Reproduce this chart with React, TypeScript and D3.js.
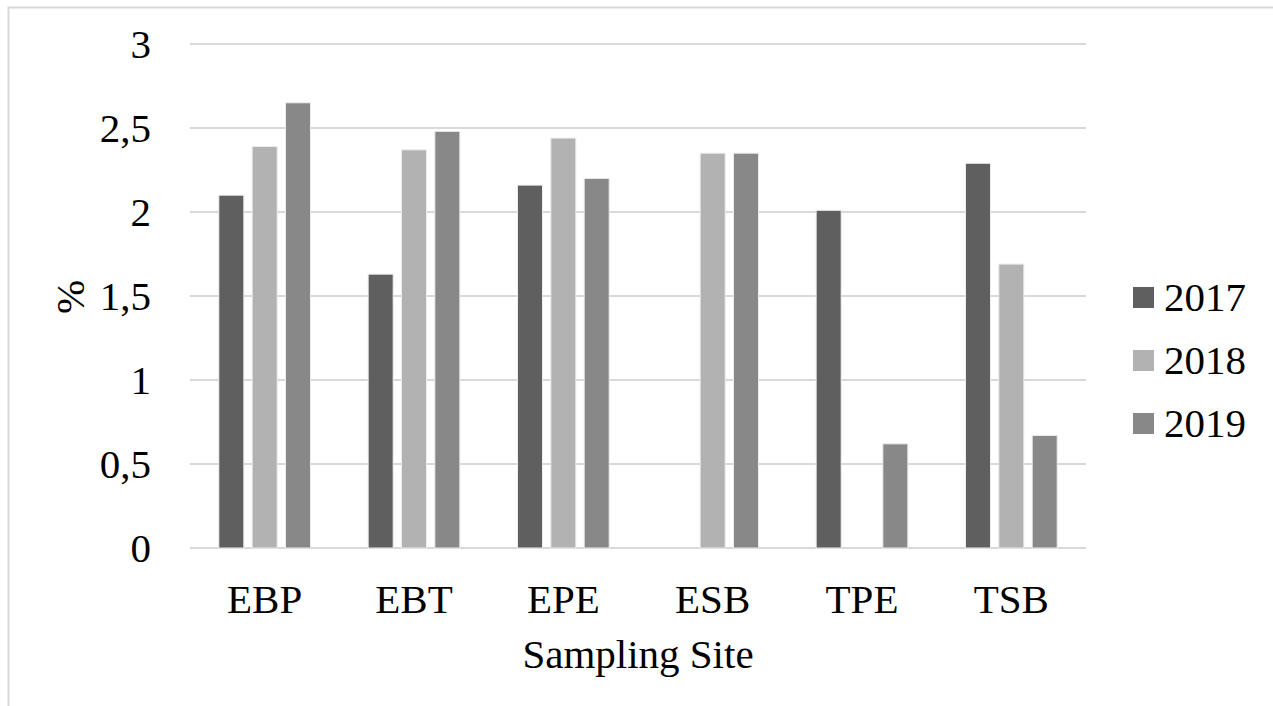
import React from "react";
import * as d3 from "d3";

// Sampling sites and yearly percentages
const sites = ["EBP", "EBT", "EPE", "ESB", "TPE", "TSB"];
const years = ["2017", "2018", "2019"];
const values2017 = [2.1, 1.63, 2.16, 0, 2.01, 2.29];
const values2018 = [2.39, 2.37, 2.44, 2.35, 0, 1.69];
const values2019 = [2.65, 2.48, 2.2, 2.35, 0.62, 0.67];
const yTicks = [0, 0.5, 1, 1.5, 2, 2.5, 3];
const colors = ["#5f5f5f", "#b2b2b2", "#888888"];

const seriesValues = [values2017, values2018, values2019];

const W = 1273;
const H = 706;
const textStyle: React.CSSProperties = {
  fontFamily: '"Liberation Serif", "Times New Roman", Times, "DejaVu Serif", serif',
  fontSize: "41px",
  fill: "#000",
};

export default function App() {
  const x0 = d3.scaleBand<string>().domain(sites).range([190, 1086]).padding(0);
  const x1 = d3
    .scaleBand<string>()
    .domain(years)
    .range([0, x0.bandwidth()])
    .paddingInner(0.25)
    .paddingOuter(0.864);
  const y = d3.scaleLinear().domain([0, 3]).range([548, 44]);
  const fmt = (v: number) => String(v).replace(".", ",");

  return (
    <svg
      width={W}
      height={H}
      style={{ position: "absolute", left: 0, top: 0, background: "#fff" }}
    >
      <rect x={0} y={0} width={W} height={H} fill="#fff" />
      {/* chart frame */}
      <rect x={8.5} y={7.5} width={W + 20} height={H + 20} fill="none" stroke="#d9d9d9" strokeWidth={2} />

      {/* gridlines */}
      {yTicks.map((t) => (
        <line
          key={t}
          x1={190}
          x2={1086}
          y1={y(t)}
          y2={y(t)}
          stroke="#d9d9d9"
          strokeWidth={2}
        />
      ))}

      {/* bars */}
      {sites.map((s, i) => (
        <g key={s} transform={`translate(${x0(s)},0)`}>
          {years.map((yr, k) => {
            const v = seriesValues[k][i];
            if (!v) return null;
            return (
              <rect
                key={yr}
                x={x1(yr)}
                y={y(v)}
                width={x1.bandwidth()}
                height={y(0) - y(v)}
                fill={colors[k]}
                stroke="#ececec"
                strokeWidth={1}
              />
            );
          })}
        </g>
      ))}

      {/* y tick labels */}
      {yTicks.map((t) => (
        <text key={t} x={151} y={y(t)} dy="0.35em" textAnchor="end" style={textStyle}>
          {fmt(t)}
        </text>
      ))}

      {/* x tick labels */}
      {sites.map((s) => (
        <text
          key={s}
          x={(x0(s) as number) + x0.bandwidth() / 2}
          y={613}
          textAnchor="middle"
          style={textStyle}
        >
          {s}
        </text>
      ))}

      {/* axis titles */}
      <text x={638} y={668} textAnchor="middle" style={textStyle}>
        Sampling Site
      </text>
      <text transform="translate(84,297) rotate(-90)" textAnchor="middle" style={textStyle}>
        %
      </text>

      {/* legend */}
      {years.map((yr, k) => (
        <g key={yr} transform={`translate(1133,${297 + k * 63})`}>
          <rect x={0} y={-10} width={21} height={21} fill={colors[k]} />
          <text x={31} y={0} dy="0.35em" style={textStyle}>
            {yr}
          </text>
        </g>
      ))}
    </svg>
  );
}
